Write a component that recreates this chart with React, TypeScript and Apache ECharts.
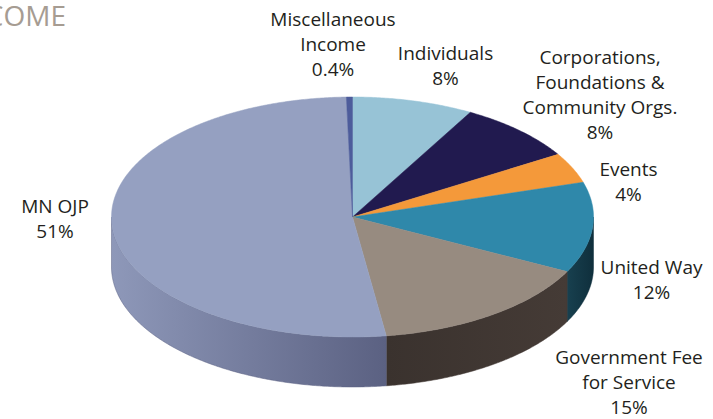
import React, { useEffect, useRef } from "react";
import * as echarts from "echarts";

// ---- data (clockwise from 12 o'clock) ----
const categories = [
  "Individuals",
  "Corporations,\nFoundations &\nCommunity Orgs.",
  "Events",
  "United Way",
  "Government Fee\nfor Service",
  "MN OJP",
  "Miscellaneous\nIncome",
];
const values = [8, 8, 4, 12, 15, 51, 0.4];
const titleText = "INCOME";

// ---- styling / layout ----
const topColors = ["#97c3d6", "#211a4f", "#f4993a", "#2f88aa", "#978b80", "#95a0c1", "#4d5c9b"];
const sideColors: string[][] = [
  ["#7da9bb", "#6a94a6"],
  ["#18133a", "#120e2d"],
  ["#c97a2c", "#b06a24"],
  ["#18404f", "#0f2f3c"],
  ["#3a322e", "#453b36"],
  ["#8e98b9", "#5b6182"],
  ["#3c4a80", "#34406f"],
];
const labelAnchors: number[][] = [
  [445.5, 65],
  [600, 94],
  [628.5, 181],
  [651.5, 279],
  [629, 382],
  [55, 218],
  [333, 44],
];
const CX = 352.5;
const CY = 217;
const RX = 241;
const RY = 120;
const DEPTH = 50;

export default function App() {
  const ref = useRef<HTMLDivElement>(null);
  useEffect(() => {
    if (!ref.current) return;
    const chart = echarts.init(ref.current, null, { renderer: "svg" });
    const total = values.reduce((a, b) => a + b, 0);
    const starts: number[] = [];
    const ends: number[] = [];
    let acc = 90;
    values.forEach((v) => {
      starts.push(acc);
      acc -= (v / total) * 360;
      ends.push(acc);
    });
    const pt = (deg: number, dy = 0) => {
      const r = (deg * Math.PI) / 180;
      return [CX + RX * Math.cos(r), CY - RY * Math.sin(r) + dy];
    };
    const arc = (a: number, b: number, dy = 0) => {
      const steps = Math.max(2, Math.ceil(Math.abs(a - b) / 0.5));
      const out: number[][] = [];
      for (let k = 0; k <= steps; k++) out.push(pt(a + ((b - a) * k) / steps, dy));
      return out;
    };

    const option: any = {
      animation: false,
      graphic: [
        {
          type: "text",
          x: 66,
          y: 15,
          style: {
            text: titleText,
            fill: "#a69c92",
            fontSize: 28,
            fontFamily: "Open Sans",
            align: "right",
            verticalAlign: "middle",
          },
        },
        ...categories.map((c, i) => ({
          type: "text",
          x: labelAnchors[i][0],
          y: labelAnchors[i][1],
          style: {
            text: c + "\n" + values[i] + "%",
            fill: "#231f20",
            fontSize: 19,
            fontFamily: "Open Sans",
            align: "center",
            verticalAlign: "middle",
            lineHeight: 25,
          },
        })),
      ],
      series: [
        {
          type: "custom",
          coordinateSystem: "none",
          silent: true,
          data: values.map((v, i) => [i, v]),
          renderItem: (params: any) => {
            const i = params.dataIndex;
            const s = starts[i];
            const e = ends[i];
            const children: any[] = [];
            children.push({
              type: "polygon",
              z2: 10,
              shape: { points: [[CX, CY], ...arc(s, e)] },
              style: { fill: topColors[i], stroke: topColors[i], lineWidth: 0.5 },
            });
            const a = Math.min(s, 0);
            const b = Math.max(e, -180);
            if (a > b) {
              const top = arc(a, b);
              const bottom = arc(b, a, DEPTH);
              children.push({
                type: "polygon",
                z2: 1,
                shape: { points: [...top, ...bottom] },
                style: {
                  fill: new echarts.graphic.LinearGradient(0, 0, 1, 0, [
                    { offset: 0, color: sideColors[i][0] },
                    { offset: 1, color: sideColors[i][1] },
                  ]),
                  stroke: sideColors[i][1],
                  lineWidth: 0.5,
                },
              });
            }
            return { type: "group", children };
          },
        },
      ],
    };
    chart.setOption(option);
    return () => chart.dispose();
  }, []);
  return (
    <div
      ref={ref}
      style={{ width: 713, height: 419, position: "absolute", left: 0, top: 0, background: "#fff" }}
    />
  );
}
